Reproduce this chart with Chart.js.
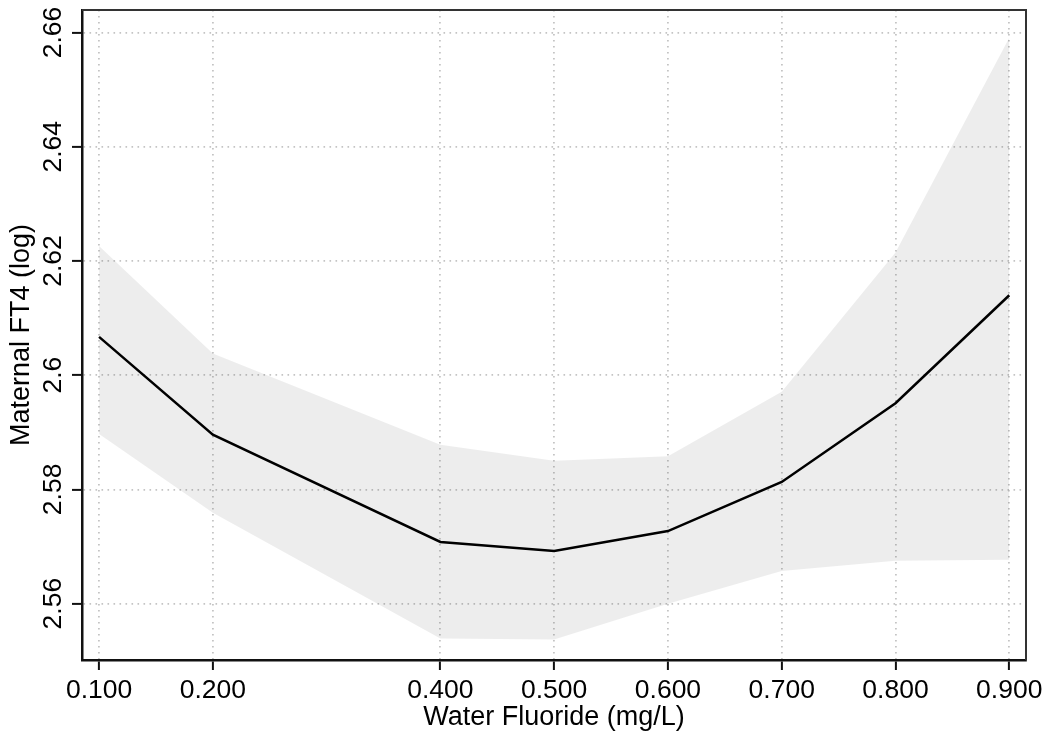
<!DOCTYPE html>
<html>
<head>
<meta charset="utf-8">
<script src="https://cdn.jsdelivr.net/npm/chart.js@4.4.0/dist/chart.umd.min.js"></script>
<style>
  html,body{margin:0;padding:0;background:#fff;}
  #wrap{width:1050px;height:739px;}
</style>
</head>
<body>
<div id="wrap"><canvas id="c" width="1050" height="739"></canvas></div>
<script>
/* data */
const fluoride = [0.1, 0.2, 0.4, 0.5, 0.6, 0.7, 0.8, 0.9];
const ft4Fit   = [2.6067, 2.5896, 2.5708, 2.5692, 2.5727, 2.5813, 2.5951, 2.6140];
const ciUpper  = [2.6226, 2.6038, 2.5878, 2.5850, 2.5858, 2.5971, 2.6215, 2.6591];
const ciLower  = [2.5897, 2.5759, 2.5539, 2.5537, 2.5600, 2.5657, 2.5675, 2.5677];
const xTicks   = [0.1, 0.2, 0.4, 0.5, 0.6, 0.7, 0.8, 0.9];
const yTicks   = [2.56, 2.58, 2.60, 2.62, 2.64, 2.66];

const FONT = "'Liberation Sans', Arial, Helvetica, sans-serif";
const pts = arr => fluoride.map((x,i)=>({x, y:arr[i]}));

/* full frame + rotated y tick labels */
const framePlugin = {
  id:'frame',
  afterDraw(chart){
    const {ctx, chartArea:a, scales} = chart;
    ctx.save();
    ctx.strokeStyle='#333';
    ctx.lineWidth=2;
    ctx.beginPath();
    ctx.moveTo(a.left, a.top); ctx.lineTo(a.right, a.top); ctx.lineTo(a.right, a.bottom);
    ctx.stroke();
    const ys = scales.y;
    ctx.fillStyle='#000';
    ctx.font='26.5px '+FONT;
    ctx.textAlign='center';
    ctx.textBaseline='alphabetic';
    yTicks.forEach(v=>{
      const py = ys.getPixelForValue(v);
      ctx.save();
      ctx.translate(61, py);
      ctx.rotate(-Math.PI/2);
      ctx.fillText(String(+v.toFixed(2)), 0, 0);
      ctx.restore();
    });
    ctx.restore();
  }
};

new Chart(document.getElementById('c'), {
  type:'line',
  data:{
    datasets:[
      {data:pts(ciLower), borderWidth:0, pointRadius:0, fill:false, tension:0},
      {data:pts(ciUpper), borderWidth:0, pointRadius:0, fill:'-1', backgroundColor:'rgba(0,0,0,0.072)', tension:0},
      {data:pts(ft4Fit), borderColor:'#000', borderWidth:2.5, pointRadius:0, fill:false, tension:0}
    ]
  },
  plugins:[framePlugin],
  options:{
    responsive:false,
    animation:false,
    layout:{padding:{top:10, right:24, left:0, bottom:0}},
    plugins:{legend:{display:false}, tooltip:{enabled:false}},
    scales:{
      x:{
        type:'linear', min:0.085, max:0.9147,
        afterBuildTicks:s=>{ s.ticks = xTicks.map(v=>({value:v})); },
        afterFit:s=>{ s.height = 79; },
        ticks:{
          autoSkip:false, maxRotation:0, padding:5, color:'#000',
          font:{family:FONT, size:26.5},
          callback:v=>Number(v).toFixed(3)
        },
        grid:{color:'#c4c4c4', lineWidth:1.8, tickColor:'#111', tickWidth:2, tickLength:10},
        border:{color:'#111', width:2.5, dash:[1.6,4.4]},
        title:{display:true, text:'Water Fluoride (mg/L)', color:'#000',
               font:{family:FONT, size:27}, padding:{top:0, bottom:5}}
      },
      y:{
        type:'linear', min:2.55013, max:2.66394,
        afterBuildTicks:s=>{ s.ticks = yTicks.map(v=>({value:v})); },
        afterFit:s=>{ s.width = 82; },
        ticks:{display:false},
        grid:{color:'#c4c4c4', lineWidth:1.8, tickColor:'#111', tickWidth:2, tickLength:10},
        border:{color:'#111', width:2.5, dash:[1.6,4.4]},
        title:{display:true, text:'Maternal FT4 (log)', color:'#000',
               font:{family:FONT, size:27}, padding:{top:5, bottom:0}}
      }
    }
  }
});
</script>
</body>
</html>
